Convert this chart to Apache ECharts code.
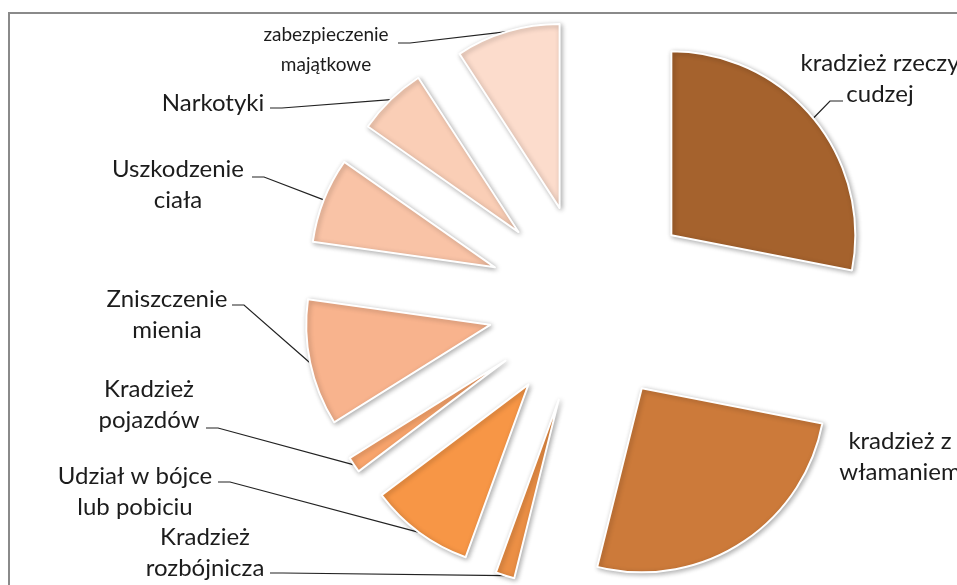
<!DOCTYPE html>
<html>
<head>
<meta charset="utf-8">
<script src="https://cdn.jsdelivr.net/npm/echarts@6/dist/echarts.min.js"></script>
<style>
html,body{margin:0;padding:0;background:#fff;}
#main{width:957px;height:585px;}
</style>
</head>
<body>
<div id="main"></div>
<script>
// Categories (clockwise from 12 o'clock)
const categories = [
  'kradzież rzeczy\ncudzej',
  'kradzież z\nwłamaniem',
  'Kradzież\nrozbójnicza',
  'Udział w bójce\nlub pobiciu',
  'Kradzież\npojazdów',
  'Zniszczenie\nmienia',
  'Uszkodzenie\nciała',
  'Narkotyki',
  'zabezpieczenie\nmajątkowe'
];
// Values (share of the whole)
const values = [101, 93, 6, 33, 5, 40, 27, 22, 33];

// Styles (kept separate from data)
const colors = ['#A5622D', '#CC7A3A', '#EB8F45', '#F79646', '#F8A46C', '#F8B38D', '#F9C3A6', '#FACEB6', '#FCDCCC'];
const explode = [108, 100, 100, 100, 100, 100, 100, 100, 100];
const labelPos = [
  [880, 79], [900, 457], [205, 553], [135, 492], [149, 405],
  [167, 315], [178, 185], [213, 103], [326, 50]
];
// leader line end: [elbow, end at label] (null = no line)
const leaderEnds = [
  [[830, 101], [843, 101]],
  null,
  [[283, 573], [270, 573]],
  [[230, 482], [218, 482]],
  [[218, 428], [206, 428]],
  [[244, 305], [232, 305]],
  [[264, 177], [252, 177]],
  [[282, 108], [270, 108]],
  [[410, 43], [398, 43]]
];
const pieCenter = [588, 304];
const pieRadius = 184;

const total = values.reduce((a, b) => a + b, 0);
let cum = 0;
const series = categories.map((name, i) => {
  const v = values[i];
  const startFrac = cum / total;
  const midFrac = (cum + v / 2) / total;
  cum += v;
  const mid = midFrac * 2 * Math.PI;
  const cx = pieCenter[0] + explode[i] * Math.sin(mid);
  const cy = pieCenter[1] - explode[i] * Math.cos(mid);
  const small = i === 8;
  return {
    type: 'pie',
    name: name,
    center: [cx, cy],
    radius: [0, pieRadius],
    startAngle: 90 - startFrac * 360,
    clockwise: true,
    avoidLabelOverlap: false,
    emphasis: {disabled: true},
    label: {
      show: true,
      position: 'outside',
      formatter: '{b}',
      fontFamily: 'Lato',
      fontSize: small ? 19 : 24,
      lineHeight: small ? 30 : 31,
      color: '#1c1c1c',
      align: 'center'
    },
    labelLine: {
      show: leaderEnds[i] !== null,
      length: 20,
      length2: 12,
      lineStyle: {color: '#222222', width: 1.2}
    },
    labelLayout: function (params) {
      if (params.dataIndex !== 0) return {};
      const si = params.seriesIndex;
      const p = labelPos[si];
      const out = {x: p[0], y: p[1], align: 'center', verticalAlign: 'middle'};
      const ends = leaderEnds[si];
      if (ends && params.labelLinePoints && params.labelLinePoints.length) {
        out.labelLinePoints = [params.labelLinePoints[0].slice(), ends[0], ends[1]];
      }
      return out;
    },
    data: [
      {
        name: name,
        value: v,
        itemStyle: {
          color: colors[i],
          borderColor: '#ffffff',
          borderWidth: 2,
          shadowBlur: 5,
          shadowColor: 'rgba(0,0,0,0.30)',
          shadowOffsetX: 1.5,
          shadowOffsetY: 1.5
        }
      },
      {
        name: '',
        value: total - v,
        itemStyle: {color: 'rgba(0,0,0,0)', borderWidth: 0},
        label: {show: false},
        labelLine: {show: false},
        tooltip: {show: false}
      }
    ]
  };
});

const chart = echarts.init(document.getElementById('main'), null, {renderer: 'canvas'});
chart.setOption({
  animation: false,
  backgroundColor: '#ffffff',
  graphic: [{
    type: 'rect',
    shape: {x: 9, y: 13, width: 1200, height: 1200},
    style: {fill: 'none', stroke: '#8a8a8a', lineWidth: 2},
    silent: true,
    z: -1
  }],
  series: series
});
</script>
</body>
</html>
